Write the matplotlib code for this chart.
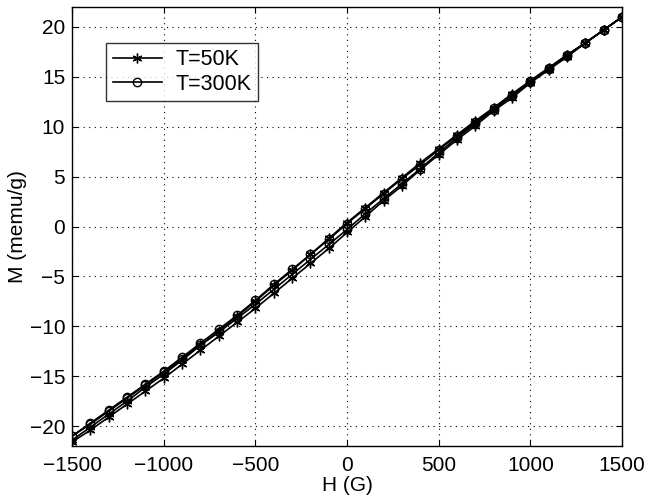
import numpy as np
import matplotlib.pyplot as plt

plt.rcParams['font.family'] = ['Liberation Sans', 'DejaVu Sans']

# field sweep, G
H_up = list(range(-1500, 1501, 100))
H_down = H_up[::-1]

# magnetization, memu/g
M50_up = [-21.6, -20.4, -19.1, -17.8, -16.5, -15.2, -13.8, -12.4, -11.0, -9.6,
          -8.2, -6.7, -5.2, -3.7, -2.2, -0.6, 1.0, 2.6, 4.1, 5.7,
          7.2, 8.7, 10.1, 11.6, 12.9, 14.4, 15.7, 17.0, 18.4, 19.7, 21.0]
M50_down = [21.0, 19.7, 18.4, 17.2, 15.9, 14.6, 13.3, 11.9, 10.6, 9.2,
            7.8, 6.4, 4.9, 3.4, 1.9, 0.4, -1.2, -2.8, -4.4, -5.9,
            -7.5, -9.0, -10.5, -11.9, -13.4, -14.8, -16.1, -17.5, -18.8, -20.1, -21.4]
M300_up = [-21.0, -19.8, -18.5, -17.2, -15.9, -14.6, -13.3, -11.9, -10.6, -9.2,
           -7.8, -6.3, -4.8, -3.3, -1.8, -0.3, 1.3, 2.8, 4.3, 5.8,
           7.4, 8.9, 10.3, 11.7, 13.1, 14.5, 15.8, 17.1, 18.4, 19.7, 21.0]
M300_down = [21.0, 19.7, 18.4, 17.2, 15.9, 14.6, 13.2, 11.9, 10.5, 9.1,
             7.7, 6.2, 4.8, 3.3, 1.8, 0.3, -1.3, -2.8, -4.3, -5.8,
             -7.4, -8.9, -10.3, -11.7, -13.1, -14.5, -15.8, -17.1, -18.4, -19.7, -21.0]

fig = plt.figure(figsize=(6.5, 5), dpi=100)
ax = fig.add_axes([0.111, 0.108, 0.846, 0.878])

# asterisk marker like the old matlab '*'
star = (6, 2, 0)
ax.plot(H_up + H_down, M50_up + M50_down, color='k', lw=1.2, marker=star,
        ms=7, mew=1.0, label='T=50K')
ax.plot(H_up + H_down, M300_up + M300_down, color='k', lw=1.2, marker='o',
        ms=6, mfc='none', mew=1.0, label='T=300K')

ax.set_xlim(-1500, 1500)
ax.set_ylim(-22, 22)
ax.set_xticks(np.arange(-1500, 1501, 500))
ax.set_yticks(np.arange(-20, 21, 5))
ax.grid(True, color='k', ls=(0, (1, 4)), lw=0.8)
ax.tick_params(direction='in', labelsize=15, top=True, right=True, length=4)
ax.tick_params(axis='x', pad=7)
ax.tick_params(axis='y', pad=5)
for s in ax.spines.values():
    s.set_linewidth(1.0)

ax.set_xlabel('H (G)', fontsize=15, labelpad=1)
ax.set_ylabel('M (memu/g)', fontsize=15, labelpad=2)

leg = ax.legend(loc='upper left', bbox_to_anchor=(0.062, 0.918), fontsize=15.5,
                frameon=True, fancybox=False, edgecolor='k', borderpad=0.3,
                handlelength=2.3, handletextpad=0.6, labelspacing=0.15,
                borderaxespad=0)
leg.get_frame().set_linewidth(1.0)

fig.savefig('out.png', dpi=100)
